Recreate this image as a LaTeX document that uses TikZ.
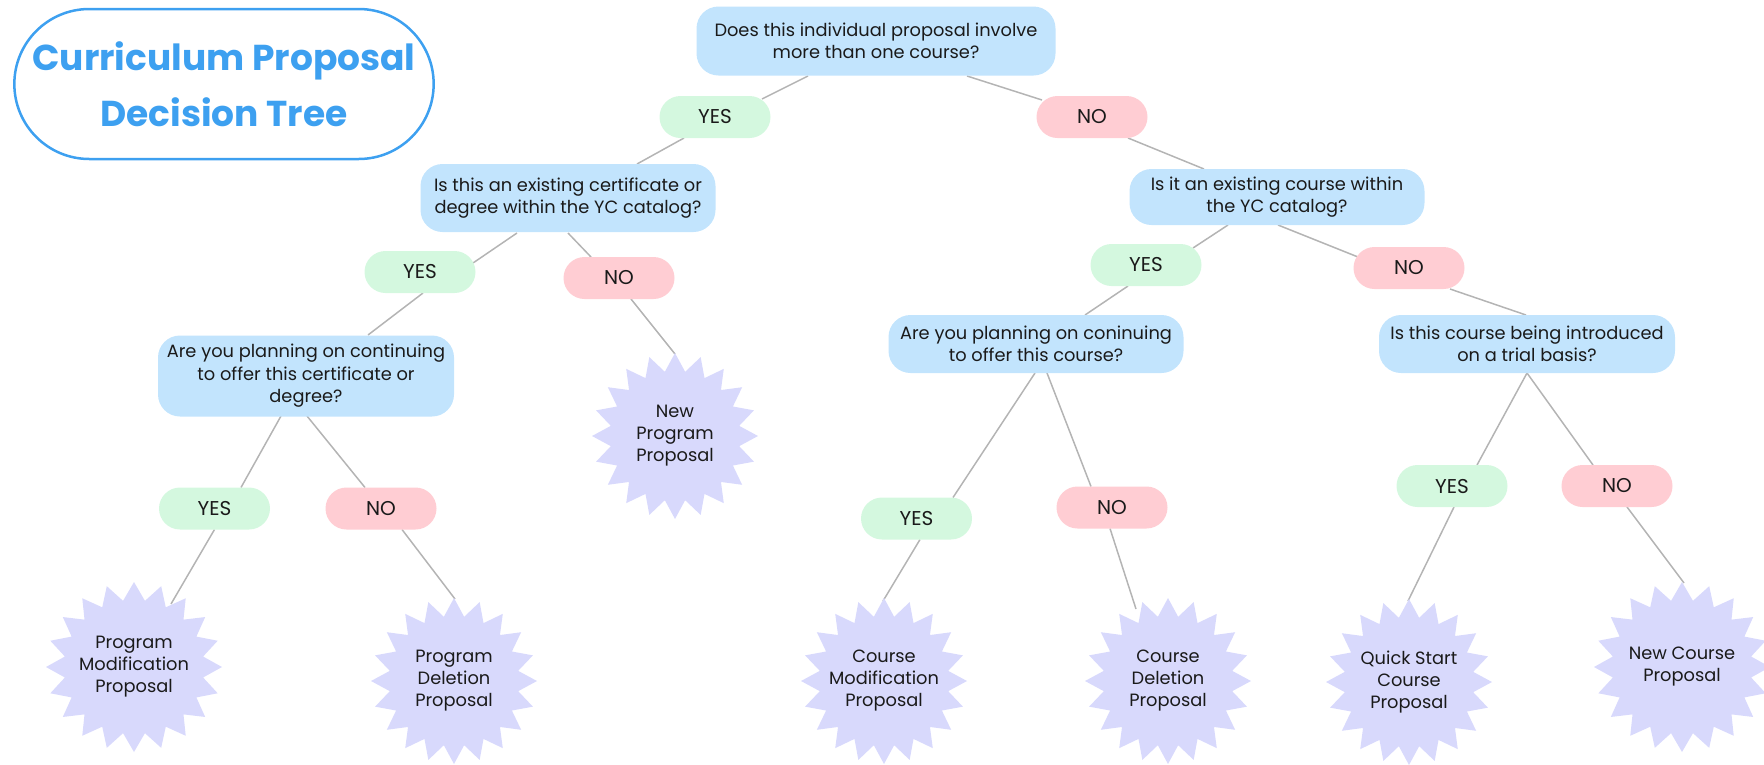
\documentclass[tikz,border=0pt]{standalone}
\usepackage{fontspec}
\setmainfont{Poppins}
\usetikzlibrary{shapes.misc,shapes.symbols,calc,backgrounds}
\definecolor{qblue}{HTML}{C2E4FD}
\definecolor{ygreen}{HTML}{D4F8DF}
\definecolor{nred}{HTML}{FFCDD3}
\definecolor{lav}{HTML}{D8D9FC}
\definecolor{lgray}{HTML}{B4B4B4}
\definecolor{ttl}{HTML}{3DA0F0}
\definecolor{txt}{HTML}{1A1A1A}
\begin{document}
\begin{tikzpicture}[x=1pt,y=-1pt,
  qbox/.style={fill=qblue, rounded corners=22pt, align=center, text=txt,
    inner sep=0pt, font=\fontsize{17.8}{22.5}\selectfont},
  yesbox/.style={rounded rectangle, fill=ygreen, minimum width=111pt, minimum height=42pt,
    inner sep=0pt, text=txt, font=\fontsize{20}{24}\selectfont},
  nobox/.style={yesbox, fill=nred},
  burst/.style={starburst, starburst points=20, starburst point height=18pt, random starburst=0,
    fill=lav, minimum width=166pt, minimum height=166pt, inner sep=0pt},
  bursttext/.style={align=center, text=txt, inner sep=0pt, font=\fontsize{17.8}{22}\selectfont},
  link/.style={draw=lgray, line width=1.5pt}]
\useasboundingbox (0,0) rectangle (1764,764);

\node[rounded rectangle, draw=ttl, line width=2.5pt, minimum width=426pt, minimum height=150pt,
  align=center, text=ttl, font=\bfseries\fontsize{36}{56}\selectfont] (title) at (224,84)
  {Curriculum Proposal\\Decision Tree};

\node[qbox, minimum width=359pt, minimum height=69pt] (q1) at (876,41)
  {Does this individual proposal involve\\more than one course?};
\node[yesbox] (yes1) at (715,117) {YES};
\node[nobox] (no1) at (1092,117) {NO};
\node[qbox, minimum width=295pt, minimum height=68pt] (q2) at (568,198)
  {Is this an existing certificate or\\degree within the YC catalog?};
\node[qbox, minimum width=295pt, minimum height=56pt] (q3) at (1277,197)
  {Is it an existing course within\\the YC catalog?};
\node[yesbox] (yes2) at (420,272) {YES};
\node[nobox] (no2) at (619,278) {NO};
\node[yesbox] (yes3) at (1146,265) {YES};
\node[nobox] (no3) at (1409,268) {NO};
\node[qbox, minimum width=296pt, minimum height=81pt] (q4) at (306,376)
  {Are you planning on continuing\\to offer this certificate or\\degree?};
\node[qbox, minimum width=295pt, minimum height=58pt] (q5) at (1036,344)
  {Are you planning on coninuing\\to offer this course?};
\node[qbox, minimum width=296pt, minimum height=58pt] (q6) at (1527,344)
  {Is this course being introduced\\on a trial basis?};
\node[yesbox] (yes4) at (214.5,508.5) {YES};
\node[nobox] (no4) at (381,508.5) {NO};
\node[yesbox] (yes5) at (916.5,518.5) {YES};
\node[nobox] (no5) at (1112,507.5) {NO};
\node[yesbox] (yes6) at (1452,486) {YES};
\node[nobox] (no6) at (1617,486) {NO};

\node[burst] (newprog) at (675,436)
  {}; \node[bursttext] (newprogt) at (newprog) {New\\Program\\Proposal};
\node[burst, minimum width=176pt, minimum height=170pt] (progmod) at (134,667)
  {}; \node[bursttext] (progmodt) at (progmod) {Program\\Modification\\Proposal};
\node[burst] (progdel) at (454,681)
  {}; \node[bursttext] (progdelt) at (progdel) {Program\\Deletion\\Proposal};
\node[burst] (coursemod) at (884,681)
  {}; \node[bursttext] (coursemodt) at (coursemod) {Course\\Modification\\Proposal};
\node[burst] (coursedel) at (1168,681)
  {}; \node[bursttext] (coursedelt) at (coursedel) {Course\\Deletion\\Proposal};
\node[burst] (quick) at (1409,682)
  {}; \node[bursttext] (quickt) at (quick) {Quick Start\\Course\\Proposal};
\node[burst, minimum width=176pt, minimum height=170pt] (newcourse) at (1682,667)
  {}; \node[bursttext] (newcourset) at (newcourse) {New Course\\Proposal};

\begin{scope}[on background layer]
\draw[link] ($(q1)+(-68,35)$) -- ($(yes1)+(47,-18)$);
\draw[link] ($(q1)+(91,35)$) -- ($(no1)+(-50,-17)$);
\draw[link] ($(yes1)+(-31,21)$) -- ($(q2)+(69,-34)$);
\draw[link] ($(no1)+(36,21)$) -- ($(q3)+(-73,-28)$);
\draw[link] ($(q2)+(-51,35)$) -- ($(yes2)+(53,-9)$);
\draw[link] ($(yes2)+(3,21)$) -- ($(q4)+(62,-41)$);
\draw[link] ($(q2)+(0,35)$) -- ($(no2)+(-28,-21)$);
\draw[link] ($(no2)+(12,21)$) -- ($(newprog)+(0,-82)$);
\draw[link] ($(q3)+(-49,28)$) -- ($(yes3)+(47,-17)$);
\draw[link] ($(q3)+(1,28)$) -- ($(no3)+(-51,-11)$);
\draw[link] ($(yes3)+(-18,21)$) -- ($(q5)+(49,-29)$);
\draw[link] ($(no3)+(41,21)$) -- ($(q6)+(-1,-29)$);
\draw[link] ($(q4)+(-25,40)$) -- ($(yes4)+(26.5,-21)$);
\draw[link] ($(q4)+(1,40)$) -- ($(no4)+(-16,-21)$);
\draw[link] ($(yes4)+(0,21)$) -- ($(progmod)+(37,-63)$);
\draw[link] ($(no4)+(21,21)$) -- ($(progdel)+(1,-82)$);
\draw[link] ($(q5)+(-1,29)$) -- ($(yes5)+(36.5,-21)$);
\draw[link] ($(q5)+(11,29)$) -- ($(no5)+(-21,-21)$);
\draw[link] ($(yes5)+(3.5,21)$) -- ($(coursemod)+(-1,-80)$);
\draw[link] ($(no5)+(-2,21)$) -- ($(coursedel)+(-32,-72)$);
\draw[link] ($(q6)+(0,29)$) -- ($(yes6)+(25,-21)$);
\draw[link] ($(q6)+(0,29)$) -- ($(no6)+(-24,-21)$);
\draw[link] ($(yes6)+(2,21)$) -- ($(quick)+(-1,-81)$);
\draw[link] ($(no6)+(10,21)$) -- ($(newcourse)+(2,-84)$);
\end{scope}
\end{tikzpicture}
\end{document}
